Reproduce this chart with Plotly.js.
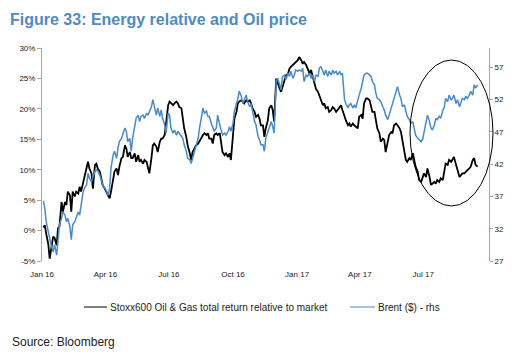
<!DOCTYPE html>
<html>
<head>
<meta charset="utf-8">
<script src="https://cdn.plot.ly/plotly-3.0.1.min.js"></script>
<style>html,body{margin:0;padding:0;background:#fff;}</style>
</head>
<body>
<div id="chart" style="width:525px;height:358px;"></div>
<script>
// Sampling grid (regular, ~every 2.4 days from 3 Jan 2016)
const startDate = '2016-01-03';
const stepDays = 2.388;

// Stoxx600 Oil & Gas total return relative to market (%), left axis
const energyRel = [
  0.5, 0.9, -0.5, -2.2, -4.6, -2.9, -1.0, -1.2, -2.4, 0.4, 0.6, 4.7, 3.1, 4.7, 4.2, 6.4, 5.8, 3.1, 6.4, 5.6,
  6.4, 6.1, 7.2, 6.4, 8.0, 8.8, 10.2, 11.3, 10.2, 9.4, 6.9, 10.8, 11.0, 10.2, 9.7, 8.8, 7.5, 6.9, 6.4, 5.6,
  5.3, 6.4, 8.6, 9.7, 10.2, 9.1, 10.5, 11.9, 12.1, 14.0, 13.5, 12.1, 12.9, 11.9, 11.9, 12.7, 11.3, 12.4, 11.3, 11.6,
  11.0, 11.6, 11.3, 10.5, 9.4,
  11.9, 14.0, 14.3, 13.8, 12.9, 14.6, 15.1, 15.1, 15.7, 17.9, 20.6, 21.2, 20.9, 20.6, 20.9, 21.2, 20.9, 20.3, 20.1, 18.4,
  16.8, 15.4, 14.0, 12.7, 11.6, 12.9, 13.5, 14.0, 14.3, 14.6, 15.1, 15.7, 16.0, 15.7, 16.0, 15.1, 15.1, 14.3, 15.7, 16.0,
  15.7, 16.0, 14.0, 12.9, 12.4, 12.7, 12.1, 12.7, 11.6, 16.2, 18.4, 19.5, 20.9, 21.2, 21.4, 21.2, 20.9, 21.4, 21.2, 21.4,
  20.9, 20.1, 19.5, 18.7, 19.0, 18.4, 17.3,
  17.3, 15.4, 16.8, 18.1, 20.1, 20.6, 19.8, 17.9, 25.0, 24.2, 23.3, 22.8, 23.6, 24.4, 25.5, 25.8, 26.6, 26.9, 27.2, 27.4,
  27.7, 28.0, 28.5, 28.0, 27.4, 27.7, 27.2, 26.6, 25.8, 26.4, 25.5, 24.4, 23.3, 22.8, 22.2, 21.4, 20.6, 20.9, 20.1, 20.3,
  19.5, 19.8, 20.3, 20.1, 19.5, 19.8, 20.3, 20.6, 19.8, 18.7, 18.1, 17.3, 17.6, 17.1, 17.6, 17.3, 17.1, 16.8, 18.7, 19.0,
  18.4, 20.9, 21.7, 21.7, 21.4, 20.3, 19.5,
  19.5, 18.1, 16.8, 16.0, 14.6, 15.1, 14.9, 12.9, 14.6, 15.7, 16.2, 16.0, 17.3, 17.6, 17.3, 16.8, 16.2, 14.6, 12.9, 11.6,
  11.3, 11.9, 11.6, 12.7, 11.3, 10.5, 9.7, 8.3, 8.0, 8.8, 9.4, 8.8, 10.2, 8.8, 7.5, 7.7, 8.0, 7.7, 8.3, 8.0,
  8.6, 8.3, 9.4, 11.0, 10.8, 11.6, 11.3, 11.6, 12.1, 10.8, 9.9, 8.8, 9.1, 9.4, 9.4, 9.7, 9.9, 10.2, 10.5, 11.6,
  11.9, 10.8, 10.5
];

// Brent ($/bbl), right axis
const brent = [
  36.3, 35.2, 33.1, 31.5, 30.5, 29.5, 28.4, 29.5, 27.9, 31.0, 32.6, 33.6, 34.6, 34.1, 33.1, 33.6, 32.3, 30.3, 32.6, 33.1,
  33.6, 34.6, 34.1, 35.7, 37.7, 38.3, 38.8, 40.6, 39.8, 39.3, 40.1, 40.9, 41.1, 40.9, 40.3, 39.3, 38.8, 38.3, 38.0, 37.2,
  38.3, 41.4, 43.4, 44.0, 42.9, 44.5, 45.5, 46.0, 46.8, 47.6, 47.1, 45.5, 46.0, 44.0, 46.0, 47.6, 49.1, 49.6, 48.6, 49.4,
  49.6, 49.1, 49.9, 49.6, 50.2,
  50.9, 52.0, 50.9, 49.6, 50.7, 49.4, 50.4, 49.1, 48.1, 46.8, 49.9, 49.6, 47.6, 46.8, 47.3, 46.5, 47.1, 46.8, 46.3, 46.0,
  45.0, 44.0, 42.9, 42.7, 42.1, 42.9, 44.0, 45.0, 46.0, 47.6, 49.1, 50.7, 49.9, 50.2, 49.4, 49.4, 48.3, 47.6, 47.1, 47.6,
  49.6, 48.1, 47.1, 46.5, 46.8, 46.5, 47.1, 47.8, 47.1, 48.3, 50.2, 51.2, 52.2, 53.3, 52.5, 51.4, 52.0, 52.7, 51.7, 50.9,
  51.4, 50.2, 48.6, 48.1, 46.3, 45.8, 45.0,
  45.0, 44.0, 46.0, 47.1, 47.6, 48.6, 47.8, 46.8, 54.8, 55.3, 54.3, 53.5, 55.6, 55.8, 55.1, 56.1, 55.6, 56.4, 55.3, 55.8,
  56.6, 56.4, 56.6, 56.4, 56.9, 54.8, 55.8, 55.6, 56.1, 55.3, 55.8, 54.8, 55.8, 55.6, 56.9, 57.1, 56.4, 55.8, 56.6, 55.6,
  56.4, 55.8, 56.6, 56.1, 56.4, 55.8, 56.4, 55.8, 56.1, 52.0, 51.4, 50.7, 51.2, 51.4, 50.7, 51.2, 50.7, 51.7, 52.7, 53.8,
  55.1, 55.8, 56.1, 56.1, 55.8, 55.6, 54.8,
  54.3, 53.0, 52.2, 52.0, 51.7, 50.9, 50.4, 49.6, 48.9, 49.6, 50.7, 51.7, 52.2, 53.3, 54.0, 52.7, 52.2, 50.9, 51.2, 50.2,
  49.4, 48.9, 48.3, 48.6, 47.6, 46.5, 46.0, 45.8, 45.5, 45.8, 46.8, 48.1, 49.6, 48.6, 47.6, 47.3, 48.1, 49.1, 48.9, 49.4,
  49.1, 50.4, 50.7, 52.2, 51.7, 52.7, 52.0, 52.2, 52.7, 51.4, 52.0, 50.9, 51.7, 52.2, 52.0, 52.5, 52.2, 52.7, 53.3, 52.7,
  54.3, 53.8, 54.3
];

const xTickVals = ['2016-01-01', '2016-04-01', '2016-07-01', '2016-10-01', '2017-01-01', '2017-04-01', '2017-07-01'];
const xTickText = ['Jan 16', 'Apr 16', 'Jul 16', 'Oct 16', 'Jan 17', 'Apr 17', 'Jul 17'];
const leftTickVals = [-5, 0, 5, 10, 15, 20, 25, 30];
const leftTickText = ['-5%', '0%', '5%', '10%', '15%', '20%', '25%', '30%'];
const rightTickVals = [27, 32, 37, 42, 47, 52, 57];

const seriesNames = ['Stoxx600 Oil & Gas total return relative to market', 'Brent ($) - rhs'];
const seriesColors = ['#000000', '#4a8ac6'];

// build the date axis values from the sampling grid
const t0 = Date.parse(startDate + 'T00:00:00Z');
const dates = energyRel.map((_, i) => new Date(t0 + i * stepDays * 86400000).toISOString().slice(0, 10));

const xRange = ['2016-01-01', '2017-10-03 07:00'];
const grey = '#a6a6a6';

const traces = [
  {x: dates, y: energyRel, type: 'scatter', mode: 'lines', name: seriesNames[0],
   line: {color: seriesColors[0], width: 1.8}, yaxis: 'y'},
  {x: dates, y: brent, type: 'scatter', mode: 'lines', name: seriesNames[1],
   line: {color: seriesColors[1], width: 1.5}, yaxis: 'y2'}
];

// pixel helpers for the annotation layer (plot area: x 42..489, y 48..261)
const px = v => (v - 42) / 447;
const py = v => (261 - v) / 213;

const layout = {
  width: 525, height: 358,
  margin: {l: 42, r: 36, t: 48, b: 97, pad: 0},
  paper_bgcolor: '#ffffff', plot_bgcolor: '#ffffff',
  showlegend: false,
  font: {family: 'Liberation Sans, Arial, sans-serif', size: 8, color: '#222222'},
  title: {
    text: 'Figure 33: Energy relative and Oil price',
    x: 10 / 525, xref: 'container', xanchor: 'left',
    y: 1 - 19 / 358, yref: 'container', yanchor: 'middle',
    font: {family: 'Liberation Sans, Arial, sans-serif', size: 16, color: '#4f8ac4', weight: 'bold'}
  },
  xaxis: {
    type: 'date', range: xRange, tickvals: xTickVals, ticktext: xTickText,
    showline: false, ticks: '', showgrid: false, zeroline: false,
    tickfont: {size: 8, color: '#222222'}, ticklabelstandoff: 7
  },
  xaxis2: {
    type: 'date', range: xRange, overlaying: 'x', anchor: 'free', position: 5 / 35,
    tickvals: xTickVals, showticklabels: false, showline: true, linecolor: '#b3b3b3', linewidth: 1.5,
    ticks: 'outside', ticklen: 3, tickcolor: '#b3b3b3', tickwidth: 1, showgrid: false, zeroline: false
  },
  yaxis: {
    range: [-5, 30], tickvals: leftTickVals, ticktext: leftTickText,
    showline: true, linecolor: grey, linewidth: 1, ticks: 'outside', ticklen: 4, tickcolor: grey,
    showgrid: false, zeroline: false, tickfont: {size: 8, color: '#222222'}
  },
  yaxis2: {
    overlaying: 'y', side: 'right', range: [27, 60], tickvals: rightTickVals,
    showline: true, linecolor: grey, linewidth: 1, ticks: 'outside', ticklen: 3, tickcolor: grey,
    showgrid: false, zeroline: false, tickfont: {size: 8, color: '#222222'}
  },
  shapes: [
    {type: 'circle', xref: 'paper', yref: 'paper', x0: px(410), x1: px(493), y0: py(206), y1: py(60),
     line: {color: '#000000', width: 1}},
    {type: 'line', xref: 'paper', yref: 'paper', x0: px(84), x1: px(107), y0: py(307), y1: py(307),
     line: {color: seriesColors[0], width: 1}},
    {type: 'line', xref: 'paper', yref: 'paper', x0: px(350), x1: px(375), y0: py(307), y1: py(307),
     line: {color: seriesColors[1], width: 1}}
  ],
  annotations: [
    {xref: 'paper', yref: 'paper', x: px(108), y: py(307), xanchor: 'left', yanchor: 'middle',
     text: seriesNames[0], showarrow: false, font: {size: 10, color: '#222222'}},
    {xref: 'paper', yref: 'paper', x: px(376), y: py(307), xanchor: 'left', yanchor: 'middle',
     text: seriesNames[1], showarrow: false, font: {size: 10, color: '#222222'}},
    {xref: 'paper', yref: 'paper', x: px(10), y: py(342), xanchor: 'left', yanchor: 'middle',
     text: 'Source: Bloomberg', showarrow: false, font: {size: 12, color: '#222222'}}
  ]
};

Plotly.newPlot('chart', traces, layout, {displayModeBar: false, staticPlot: true});
</script>
</body>
</html>
